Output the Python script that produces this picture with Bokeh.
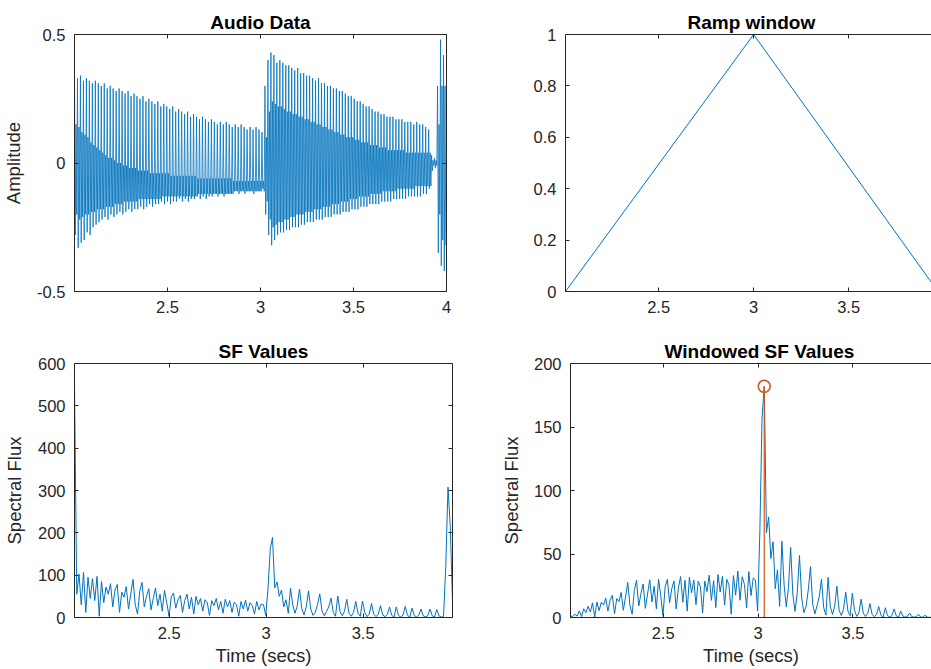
import numpy as np
from bokeh.plotting import figure
from bokeh.layouts import column, row
from bokeh.models import LinearAxis, FixedTicker, Range1d
from bokeh.embed import file_html
from bokeh.resources import INLINE

# ---------------- data ----------------
# Audio waveform, read as strokes: one cycle = outer top, outer bottom, inner top, inner bottom
AUD_T0 = 2.0
AUD_CYCLE = 0.016
aud_top = [
    .34, .33, .34, .32, .33, .32, .31, .32, .31, .30,
    .31, .29, .30, .29, .28, .29, .28, .27, .28, .26,
    .27, .26, .25, .26, .24, .25, .24, .23, .24, .22,
    .23, .22, .21, .22, .20, .21, .20, .19, .20, .18,
    .19, .18, .17, .18, .17, .16, .17, .16, .15, .16,
    .15, .16, .15, .14, .15, .14, .15, .14, .13, .14,
    .13, .14, .13, .12,
    .30, .40, .43, .42, .39, .40,
    .39, .38, .38, .37, .36, .37, .35, .35, .34, .34,
    .33, .32, .33, .31, .31, .30, .30, .29, .29, .28,
    .28, .27, .26, .26, .25, .24, .24, .23, .22, .22,
    .21, .20, .20, .19, .19, .18, .18, .18, .17, .17,
    .17, .16, .16, .16, .15, .16, .15, .15, .14, .13,
    .03, .02,
    .30, .48, .42,
]
aud_bot = [
    -.28, -.33, -.31, -.30, -.27, -.28, -.25, -.24, -.23, -.22,
    -.21, -.22, -.20, -.21, -.20, -.19, -.20, -.19, -.18, -.19,
    -.18, -.18, -.17, -.18, -.17, -.16, -.17, -.16, -.16, -.15,
    -.16, -.15, -.16, -.15, -.15, -.14, -.15, -.14, -.15, -.14,
    -.14, -.13, -.14, -.13, -.14, -.13, -.13, -.12, -.13, -.12,
    -.13, -.12, -.12, -.12, -.11, -.12, -.11, -.12, -.11, -.11,
    -.12, -.11, -.11, -.10,
    -.20, -.28, -.32, -.30, -.28, -.27,
    -.27, -.26, -.26, -.25, -.25, -.25, -.24, -.24, -.23, -.23,
    -.23, -.22, -.22, -.22, -.21, -.21, -.21, -.20, -.20, -.20,
    -.19, -.19, -.19, -.18, -.18, -.18, -.17, -.17, -.17, -.16,
    -.16, -.16, -.16, -.15, -.15, -.15, -.15, -.14, -.14, -.14,
    -.14, -.14, -.13, -.13, -.13, -.13, -.13, -.12, -.12, -.10,
    -.03, -.02,
    -.35, -.40, -.42,
]
aud_itop = [
    .15, .14, .12, .11, .10, .08, .07, .06, .05, .04,
    .03, .02, .02, .01, .00, .00, -.01, -.01, -.02, -.02,
    -.02, -.03, -.03, -.03, -.03, -.04, -.04, -.04, -.04, -.04,
    -.04, -.04, -.05, -.05, -.05, -.05, -.05, -.05, -.05, -.05,
    -.05, -.06, -.06, -.06, -.06, -.06, -.06, -.06, -.06, -.06,
    -.06, -.06, -.06, -.07, -.07, -.07, -.07, -.07, -.07, -.07,
    -.07, -.07, -.07, -.07,
    .10, .20, .24, .23, .22, .22,
    .21, .20, .20, .19, .19, .18, .18, .17, .17, .16,
    .16, .15, .15, .14, .14, .13, .13, .12, .12, .11,
    .11, .10, .10, .10, .09, .09, .08, .08, .08, .07,
    .07, .07, .06, .06, .06, .05, .05, .05, .05, .05,
    .05, .04, .04, .04, .04, .04, .04, .04, .04, .04,
    .01, .01,
    .15, .30, .30,
]
aud_ibot = [
    -.20, -.22, -.21, -.20, -.20, -.19, -.19, -.18, -.18, -.18,
    -.17, -.17, -.17, -.16, -.16, -.16, -.15, -.15, -.15, -.15,
    -.15, -.14, -.14, -.14, -.14, -.14, -.14, -.14, -.14, -.13,
    -.13, -.13, -.13, -.13, -.13, -.13, -.13, -.13, -.13, -.13,
    -.13, -.12, -.12, -.12, -.12, -.12, -.12, -.12, -.12, -.12,
    -.12, -.12, -.12, -.11, -.11, -.11, -.11, -.11, -.11, -.11,
    -.11, -.11, -.11, -.11,
    -.15, -.22, -.25, -.24, -.23, -.23,
    -.22, -.22, -.21, -.21, -.20, -.20, -.20, -.19, -.19, -.19,
    -.18, -.18, -.18, -.17, -.17, -.17, -.16, -.16, -.16, -.15,
    -.15, -.15, -.14, -.14, -.14, -.13, -.13, -.13, -.13, -.12,
    -.12, -.12, -.12, -.11, -.11, -.11, -.11, -.11, -.10, -.10,
    -.10, -.10, -.10, -.10, -.09, -.09, -.09, -.09, -.09, -.09,
    -.01, -.01,
    -.20, -.30, -.32,
]

# Ramp window
ramp_t = [2.01, 3.0, 3.97]
ramp_v = [0.0, 1.0, 0.0]

# Spectral flux frames
SF_T0 = 2.012
SF_HOP = 0.0116
sf_vals = [
    550, 55, 103, 30, 107, 12, 95, 45, 92, 40,
    97, 3, 85, 35, 72, 55, 80, 25, 65, 78,
    12, 60, 48, 73, 20, 55, 90, 30, 8, 62,
    83, 25, 50, 68, 18, 45, 70, 28, 55, 15,
    64, 35, 3, 48, 58, 22, 42, 52, 12, 40,
    55, 20, 48, 8, 50, 30, 45, 15, 42, 35,
    5, 40, 28, 45, 18, 38, 10, 43, 25, 40,
    12, 36, 30, 3, 38, 20, 41, 15, 35, 28,
    8, 38, 18, 32, 30, 5, 68, 163, 189, 70,
    84, 50, 65, 25, 42, 10, 69, 30, 10, 28,
    67, 22, 6, 25, 63, 20, 5, 12, 30, 56,
    15, 4, 14, 25, 46, 12, 3, 51, 14, 4,
    15, 43, 10, 3, 12, 38, 10, 3, 39, 12,
    2, 8, 33, 8, 2, 8, 28, 6, 2, 7,
    25, 5, 1, 25, 5, 1, 6, 26, 5, 1,
    22, 5, 1, 5, 20, 4, 1, 4, 20, 4,
    1, 19, 4, 1, 2, 120, 308, 215, 40,
]
wsf_vals = [
    1.1, 0.8, 2.6, 1.1, 5.2, 0.7, 6.9, 3.8, 8.8, 4.3,
    11.6, 0.4, 12.1, 5.4, 12.0, 9.8, 15.2, 5.0, 13.8, 17.5,
    2.8, 14.9, 12.5, 19.8, 5.7, 16.2, 27.6, 9.6, 2.6, 21.2,
    29.3, 9.1, 18.9, 26.4, 7.2, 18.5, 29.7, 12.2, 24.6, 6.9,
    30.1, 16.9, 1.5, 24.3, 30.0, 11.6, 22.7, 28.8, 6.8, 23.1,
    32.3, 12.0, 29.4, 5.0, 31.7, 19.4, 29.6, 10.1, 28.6, 24.3,
    3.5, 28.7, 20.4, 33.3, 13.5, 29.0, 7.8, 33.9, 20.0, 32.4,
    9.9, 30.0, 25.4, 2.6, 33.0, 17.6, 36.6, 13.6, 32.1, 26.0,
    7.5, 36.1, 17.3, 31.2, 29.6, 5.0, 67.3, 157, 182, 66.8,
    79.2, 46.5, 59.7, 22.7, 37.6, 8.8, 60.1, 25.8, 8.5, 23.4,
    55.1, 17.8, 4.8, 19.7, 48.8, 15.3, 3.8, 8.9, 21.8, 40.0,
    10.5, 2.8, 9.5, 16.7, 30.1, 7.7, 1.9, 31.6, 8.5, 2.4,
    8.8, 24.6, 5.6, 1.6, 6.4, 19.9, 5.1, 1.5, 19.0, 5.7,
    0.9, 3.6, 14.5, 3.4, 0.8, 3.2, 11.0, 2.3, 0.7, 2.5,
    8.6, 1.7, 0.3, 7.7, 1.5, 0.3, 1.6, 6.8, 1.2, 0.2,
    4.9, 1.1, 0.2, 0.9, 3.5, 0.7, 0.2, 0.6, 2.6, 0.5,
    0.1, 1.8, 0.3, 0.1, 0.1, 5.5, 10.3, 4.6, 0.4,
]

# Ticks
audio_xticks = [2.5, 3.0, 3.5, 4.0]
audio_xlabels = ["2.5", "3", "3.5", "4"]
time_xticks = [2.5, 3.0, 3.5]
time_xlabels = ["2.5", "3", "3.5"]
audio_yticks = [-0.5, 0.0, 0.5]
audio_ylabels = ["-0.5", "0", "0.5"]
ramp_yticks = [0.0, 0.2, 0.4, 0.6, 0.8, 1.0]
ramp_ylabels = ["0", "0.2", "0.4", "0.6", "0.8", "1"]
sf_yticks = [0, 100, 200, 300, 400, 500, 600]
sf_ylabels = ["0", "100", "200", "300", "400", "500", "600"]
wsf_yticks = [0, 50, 100, 150, 200]
wsf_ylabels = ["0", "50", "100", "150", "200"]

# ---------------- styling ----------------
BLUE = "#0072BD"
RED = "#D95319"
AX = "#262626"
FONT = "Liberation Sans"
TICK_FS = "16.5px"
LABEL_FS = "18.5px"
TITLE_FS = "19px"


def make_fig(w, h, mbl, mbr, mbt, mbb, xr, yr, title, align="center", offset=0):
    p = figure(width=w, height=h, x_range=Range1d(*xr), y_range=Range1d(*yr),
               output_backend="svg", toolbar_location=None, tools="",
               x_axis_type=None, y_axis_type=None, title=title,
               min_border_left=mbl, min_border_right=mbr,
               min_border_top=mbt, min_border_bottom=mbb)
    p.outline_line_color = None
    p.background_fill_color = "white"
    p.border_fill_color = "white"
    p.title.text_font = FONT
    p.title.text_font_size = TITLE_FS
    p.title.text_font_style = "bold"
    p.title.text_color = "black"
    p.title.align = align
    p.title.offset = offset
    p.title.standoff = 3
    return p


def add_axis(p, side, ticks, labels=None, axis_label=None, label_standoff=9, axis_label_standoff=10):
    ax = LinearAxis(ticker=FixedTicker(ticks=ticks))
    ax.major_tick_in = 4
    ax.major_tick_out = 0
    ax.minor_tick_line_color = None
    ax.axis_line_color = AX
    ax.major_tick_line_color = AX
    ax.axis_line_width = 1
    if labels is None:
        ax.major_label_text_font_size = "0px"
        ax.major_label_standoff = 0
        ax.major_label_text_color = None
    else:
        ax.major_label_overrides = {t: l for t, l in zip(ticks, labels)}
        ax.major_label_text_font = FONT
        ax.major_label_text_font_size = TICK_FS
        ax.major_label_text_color = AX
        ax.major_label_standoff = label_standoff
    if axis_label:
        ax.axis_label = axis_label
        ax.axis_label_text_font = FONT
        ax.axis_label_text_font_size = LABEL_FS
        ax.axis_label_text_font_style = "normal"
        ax.axis_label_text_color = AX
        ax.axis_label_standoff = axis_label_standoff
    p.add_layout(ax, side)
    return ax


# ---------------- derived drawing coordinates ----------------
aud_t, aud_v = [], []
for c in range(len(aud_top)):
    for j, v in enumerate((aud_top[c], aud_bot[c], aud_itop[c], aud_ibot[c])):
        aud_t.append(AUD_T0 + AUD_CYCLE * c + AUD_CYCLE / 4 * j)
        aud_v.append(v)

sf_t = [SF_T0 + SF_HOP * k for k in range(len(sf_vals))]
peak_idx = int(np.argmax(wsf_vals))
peak_t = sf_t[peak_idx]
peak_v = wsf_vals[peak_idx]

# ---------------- figures ----------------
# Top-left: Audio Data
p1 = make_fig(505, 335, 73, 59, 34, 44, (2.0, 4.0), (-0.5, 0.5), "Audio Data")
p1.line(aud_t, aud_v, line_color=BLUE, line_width=0.8)
add_axis(p1, "below", audio_xticks, audio_xlabels)
add_axis(p1, "left", audio_yticks, audio_ylabels, axis_label="Amplitude")
add_axis(p1, "above", audio_xticks)
add_axis(p1, "right", audio_yticks)

# Top-right: Ramp window
p2 = make_fig(426, 335, 60, 0, 34, 44, (2.01, 3.936), (0.0, 1.0), "Ramp window",
              align="left", offset=122)
p2.line(ramp_t, ramp_v, line_color=BLUE, line_width=1)
add_axis(p2, "below", time_xticks, time_xlabels)
add_axis(p2, "left", ramp_yticks, ramp_ylabels)
add_axis(p2, "above", time_xticks)

# Bottom-left: SF Values
p3 = make_fig(497, 333, 73, 45, 28, 51, (SF_T0, sf_t[-1]), (0, 600), "SF Values")
p3.line(sf_t, sf_vals, line_color=BLUE, line_width=1)
add_axis(p3, "below", time_xticks, time_xlabels, axis_label="Time (secs)",
         axis_label_standoff=3)
add_axis(p3, "left", sf_yticks, sf_ylabels, axis_label="Spectral Flux")
add_axis(p3, "above", time_xticks)
add_axis(p3, "right", sf_yticks)

# Bottom-right: Windowed SF Values
p4 = make_fig(434, 333, 67, 0, 28, 51, (SF_T0, 3.914), (0, 200), "Windowed SF Values",
              align="left", offset=94)
p4.line(sf_t, wsf_vals, line_color=BLUE, line_width=1)
p4.segment(x0=[peak_t], y0=[0], x1=[peak_t], y1=[peak_v], line_color=RED, line_width=1.2)
p4.scatter([peak_t], [peak_v], marker="circle", size=12, fill_color=None,
           line_color=RED, line_width=1.5)
add_axis(p4, "below", time_xticks, time_xlabels, axis_label="Time (secs)",
         axis_label_standoff=3)
add_axis(p4, "left", wsf_yticks, wsf_ylabels, axis_label="Spectral Flux",
         axis_label_standoff=9)
add_axis(p4, "above", time_xticks)

layout = column(row(p1, p2), row(p3, p4))
open("out.html", "w").write(file_html(layout, INLINE))
